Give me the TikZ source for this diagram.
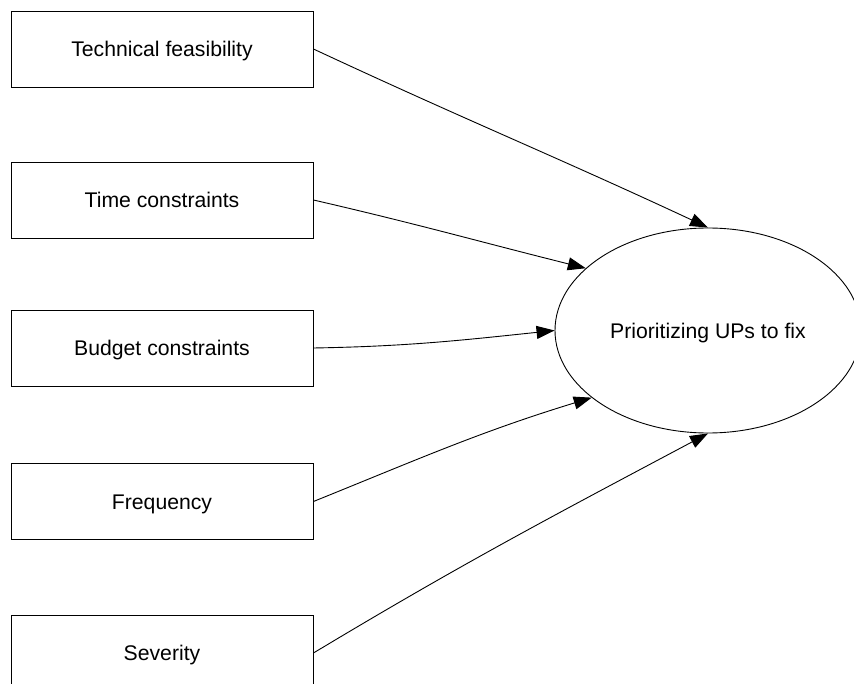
\documentclass[tikz,border=0pt]{standalone}
\usepackage{fontspec}
\setmainfont{Liberation Sans}
\usetikzlibrary{arrows.meta,shapes.geometric}
\begin{document}
\begin{tikzpicture}[x=1pt,y=-1pt,
  box/.style={draw=black,line width=0.9pt,minimum width=302pt,minimum height=76pt,inner sep=0pt,text height=15.2pt,text depth=0pt,font=\fontsize{21.2}{25}\selectfont},
  ell/.style={draw=black,line width=0.9pt,ellipse,minimum width=306pt,minimum height=205pt,inner sep=0pt,text height=15.2pt,text depth=0pt,font=\fontsize{21.2}{25}\selectfont},
  conn/.style={draw=black,line width=0.9pt,-{Triangle[length=18pt,width=13pt]}}]
\useasboundingbox (0,0) rectangle (854,684);
\node[box] (tf) at (162,49) {Technical feasibility};
\node[box] (tc) at (162,200) {Time constraints};
\node[box] (bc) at (162,348) {Budget constraints};
\node[box] (fr) at (162,501.5) {Frequency};
\node[box] (sv) at (162,653) {Severity};
\node[ell] (pu) at (708,330.5) {Prioritizing UPs to fix};
\draw[conn] (tf.east) to[out=-25,in=155] (pu.north);
\draw[conn] (tc.east) to[out=-13,in=166] (pu.153);
\draw[conn] (bc.east) to[out=1,in=186] (pu.west);
\draw[conn] (fr.east) to[out=22,in=197] (pu.210);
\draw[conn] (sv.east) to[out=31,in=208] (pu.south);
\end{tikzpicture}
\end{document}
